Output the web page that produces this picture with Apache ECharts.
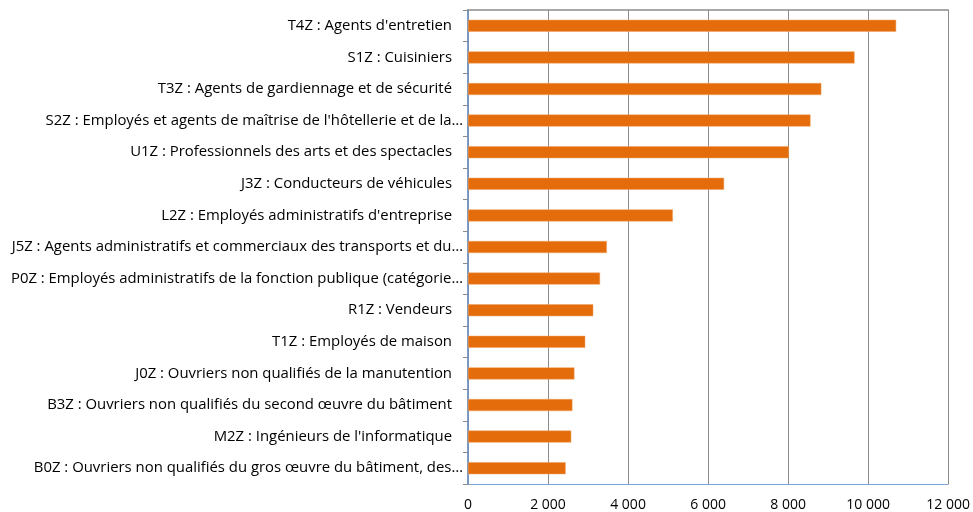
<!DOCTYPE html>
<html>
<head>
<meta charset="utf-8">
<script src="https://cdn.jsdelivr.net/npm/echarts@6/dist/echarts.min.js"></script>
<style>
  html, body { margin: 0; padding: 0; background: #fff; }
  #chart { width: 973px; height: 512px; }
</style>
</head>
<body>
<div id="chart"></div>
<script>
// libellés des métiers (tronqués comme dans l'original)
const categories = [
  "T4Z : Agents d'entretien",
  'S1Z : Cuisiniers',
  'T3Z : Agents de gardiennage et de sécurité',
  "S2Z : Employés et agents de maîtrise de l'hôtellerie et de la…",
  'U1Z : Professionnels des arts et des spectacles',
  'J3Z : Conducteurs de véhicules',
  "L2Z : Employés administratifs d'entreprise",
  'J5Z : Agents administratifs et commerciaux des transports et du…',
  'P0Z : Employés administratifs de la fonction publique (catégorie…',
  'R1Z : Vendeurs',
  'T1Z : Employés de maison',
  'J0Z : Ouvriers non qualifiés de la manutention',
  'B3Z : Ouvriers non qualifiés du second œuvre du bâtiment',
  "M2Z : Ingénieurs de l'informatique",
  'B0Z : Ouvriers non qualifiés du gros œuvre du bâtiment, des…'
]
const values = [10700, 9660, 8830, 8560, 8020, 6400, 5120, 3470, 3300, 3130, 2930, 2660, 2610, 2580, 2440]
const xTicks = [0, 2000, 4000, 6000, 8000, 10000, 12000]

const xMin = xTicks[0]
const xMax = xTicks[xTicks.length - 1]
const fs = 14.9
const fmt = function (v) {
  return String(v).replace(/\B(?=(\d{3})+(?!\d))/g, ' ')
}

var myChart = echarts.init(document.getElementById('chart'))
myChart.setOption({
  animation: false,
  backgroundColor: '#fff',
  textStyle: { fontFamily: 'Open Sans' },
  grid: { left: 468, right: 24, top: 10, bottom: 28, containLabel: false },
  xAxis: [{
    type: 'value',
    position: 'bottom',
    min: xMin,
    max: xMax,
    interval: 2000,
    axisLine: { show: true, lineStyle: { color: '#7DA2D2', width: 1 } },
    axisTick: { show: false },
    axisLabel: { color: '#000', fontSize: 14, margin: 14, formatter: fmt },
    splitLine: { show: true, lineStyle: { color: '#8C8C8C', width: 1 } }
  }, {
    type: 'value',
    position: 'top',
    min: xMin,
    max: xMax,
    axisLine: { show: true, lineStyle: { color: '#8C8C8C', width: 1.5 } },
    axisTick: { show: false },
    axisLabel: { show: false },
    splitLine: { show: false }
  }],
  yAxis: [{
    type: 'category',
    inverse: true,
    data: categories,
    axisLine: { show: true, lineStyle: { color: '#8C8C8C', width: 1.5 } },
    axisTick: { show: true, length: 5, lineStyle: { color: '#8C8C8C' } },
    axisLabel: {
      color: '#000',
      fontSize: fs,
      margin: 5,
      formatter: function (v) {
        return v.slice(-1) === '…' ? '{t|' + v + '}' : '{n|' + v + '}'
      },
      rich: {
        t: { fontSize: fs, color: '#000' },
        n: { fontSize: fs, color: '#000', padding: [0, 11, 0, 0] }
      }
    },
    splitLine: { show: false }
  }, {
    type: 'category',
    position: 'right',
    inverse: true,
    data: categories,
    axisLine: { show: true, lineStyle: { color: '#6F97CD', width: 1.5 } },
    axisTick: { show: false },
    axisLabel: { show: false }
  }],
  series: [{
    type: 'bar',
    data: values,
    barWidth: 12,
    itemStyle: { color: '#E46C0A', borderColor: '#F0A060', borderWidth: 0.5 }
  }]
})
</script>
</body>
</html>
